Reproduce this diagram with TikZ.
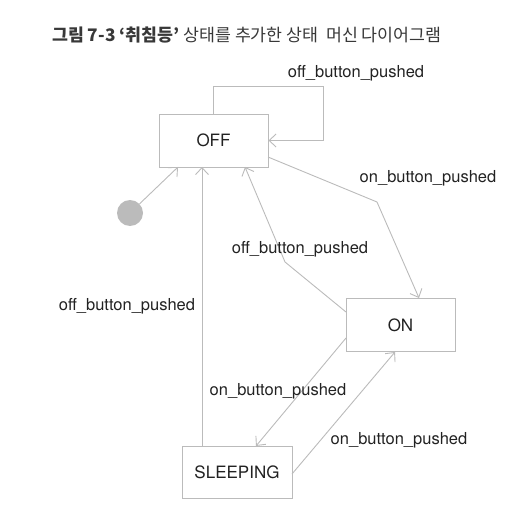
\documentclass[tikz,border=0pt]{standalone}
\usepackage{fontspec}
\setmainfont{TeX Gyre Heros}
\newfontfamily\krfont{Noto Sans CJK KR}
\usetikzlibrary{arrows.meta,calc}
\definecolor{linegray}{HTML}{BBBBBB}
\definecolor{txt}{HTML}{222222}
\tikzset{
  state/.style={draw=linegray, line width=0.9pt, fill=white, minimum width=109pt, minimum height=53pt, inner sep=0pt, font=\fontsize{17}{19}\selectfont, text=txt},
  conn/.style={draw=linegray, line width=0.9pt, -{Straight Barb[length=7pt,width=13pt]}},
  lbl/.style={font=\fontsize{16.5}{18}\selectfont, text=txt, inner sep=0pt}
}
\begin{document}
\begin{tikzpicture}[x=1pt,y=-1pt]
\useasboundingbox (0,0) rectangle (532,513);
\node[anchor=west, inner sep=0pt, text=black!78, font=\krfont\fontsize{17.3}{19}\selectfont] (title) at (52,35) {\textbf{그림 7-3 ‘취침등’} 상태를 추가한 상태\ \ 머신 다이어그램};

\node[state] (OFF) at (213.5,140.5) {OFF};
\node[state] (ON) at (400.5,325) {ON};
\node[state, minimum width=110pt, minimum height=52pt] (SLEEPING) at (237,472) {SLEEPING};
\node[circle, fill=linegray, minimum size=26pt, inner sep=0pt] (init) at (130,213) {};

\coordinate (loop) at (323,86);
\coordinate (offin1) at (178,167);
\coordinate (offin2) at (202,167);
\coordinate (sltop) at (202,446);
\coordinate (offin3) at (245,167);
\coordinate (onout1) at (346,312);
\coordinate (bend1) at (285,262);
\coordinate (offout) at (268,157);
\coordinate (bend2) at (377,202);
\coordinate (onin1) at (419,298);
\coordinate (onout2) at (346,338);
\coordinate (slin) at (256,446);
\coordinate (slout) at (292,474);
\coordinate (onin2) at (395,352);

\draw[conn] (OFF.north) |- (loop) |- (OFF.east);
\draw[conn] (init) -- (offin1);
\draw[conn] (sltop) -- (offin2);
\draw[conn] (onout1) -- (bend1) -- (offin3);
\draw[conn] (offout) -- (bend2) -- (onin1);
\draw[conn] (onout2) -- (slin);
\draw[conn] (slout) -- (onin2);

\node[lbl] (l1) at (356,73) {off\_button\_pushed};
\node[lbl] (l2) at (428,178) {on\_button\_pushed};
\node[lbl] (l3) at (300,249) {off\_button\_pushed};
\node[lbl] (l4) at (127,306) {off\_button\_pushed};
\node[lbl] (l5) at (278,391) {on\_button\_pushed};
\node[lbl] (l6) at (399,440) {on\_button\_pushed};
\end{tikzpicture}
\end{document}
